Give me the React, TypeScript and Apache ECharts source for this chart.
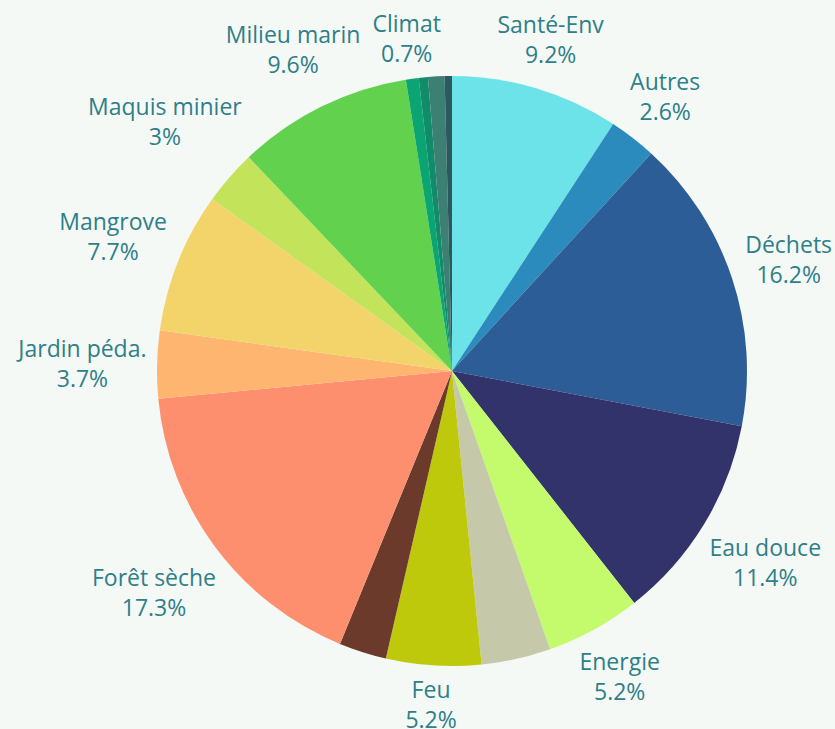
import React, { useEffect, useRef } from "react";
import * as echarts from "echarts";

const categories = [
  "Santé-Env", "Autres", "Déchets", "Eau douce", "Energie", "Non précisé A",
  "Feu", "Non précisé B", "Forêt sèche", "Jardin péda.", "Mangrove",
  "Maquis minier", "Milieu marin", "Climat", "Non précisé C", "Non précisé D", "Non précisé E",
];
const values = [9.2, 2.6, 16.2, 11.4, 5.2, 3.8, 5.2, 2.6, 17.3, 3.7, 7.7, 3, 9.6, 0.7, 0.5, 0.9, 0.4];
const labelShown = [true, true, true, true, true, false, true, false, true, true, true, true, true, true, false, false, false];
const colors = [
  "#6be3e8", "#2b8bbd", "#2d5d96", "#33336c", "#c3fb6c", "#c6c9a9",
  "#bec90b", "#6b3a2b", "#fd8e6e", "#fdb56f", "#f2d46b",
  "#c3e35b", "#62d24e", "#0aa572", "#118c6a", "#3b8073", "#2d5862",
];

const W = 835;
const H = 729;
const CX = 452;
const CY = 371;
const R = 295;
const GAP = 10;

export default function App() {
  const ref = useRef<HTMLDivElement>(null);
  useEffect(() => {
    if (!ref.current) return;
    const chart = echarts.init(ref.current, null, { renderer: "svg" });
    const total = values.reduce((a, b) => a + b, 0);
    const mids: number[] = [];
    let acc = 0;
    values.forEach((v) => {
      mids.push(((acc + v / 2) / total) * 360);
      acc += v;
    });
    chart.setOption({
      animation: false,
      backgroundColor: "#f5f9f6",
      series: [
        {
          type: "pie",
          center: [CX, CY],
          radius: [0, R],
          startAngle: 90,
          clockwise: true,
          avoidLabelOverlap: false,
          itemStyle: { borderWidth: 0 },
          label: {
            show: true,
            position: "outside",
            color: "#2e7f88",
            fontFamily: "Open Sans",
            fontSize: 23,
            lineHeight: 30,
            align: "center",
            formatter: (p: any) => `${categories[p.dataIndex]}\n${values[p.dataIndex]}%`,
          },
          labelLine: { show: false },
          labelLayout: (params: any) => {
            const i = params.dataIndex;
            const a = (mids[i] * Math.PI) / 180;
            const s = Math.sin(a);
            const c = Math.cos(a);
            const w = params.labelRect.width / 2;
            const h = params.labelRect.height / 2 - 3;
            const d = R + GAP + Math.abs(w * s) + Math.abs(h * c);
            return { x: CX + d * s, y: CY - d * c, align: "center", verticalAlign: "middle" };
          },
          emphasis: { disabled: true },
          data: values.map((v, i) => ({
            name: categories[i],
            value: v,
            itemStyle: { color: colors[i] },
            label: { show: labelShown[i] },
          })),
        },
      ],
    });
    return () => chart.dispose();
  }, []);
  return (
    <div
      ref={ref}
      style={{ position: "fixed", left: 0, top: 0, width: W, height: H }}
    />
  );
}
